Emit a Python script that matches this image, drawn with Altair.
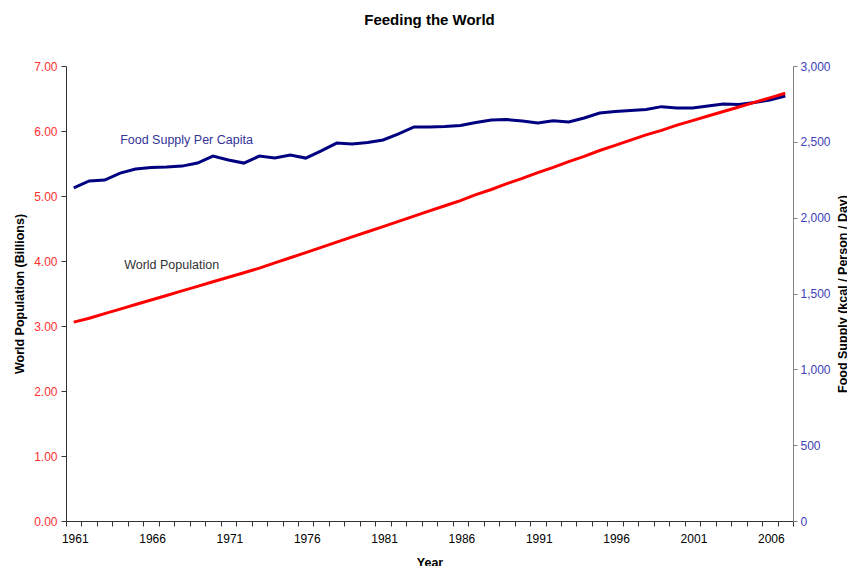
import altair as alt
import pandas as pd

# Years on the category axis
years = list(range(1961, 2008))

# World population, billions
population = [
    3.06, 3.12, 3.19, 3.26, 3.33, 3.40, 3.47, 3.54, 3.61, 3.68,
    3.75, 3.82, 3.89, 3.97, 4.05, 4.13, 4.21, 4.29, 4.37, 4.45,
    4.53, 4.61, 4.69, 4.77, 4.85, 4.93, 5.02, 5.10, 5.19, 5.27,
    5.36, 5.44, 5.53, 5.61, 5.70, 5.78, 5.86, 5.94, 6.01, 6.09,
    6.16, 6.23, 6.30, 6.37, 6.44, 6.51, 6.58,
]

# Food supply per capita, kcal / person / day
food_supply = [
    2197, 2242, 2248, 2294, 2321, 2331, 2334, 2340, 2360, 2406,
    2380, 2360, 2406, 2393, 2413, 2393, 2440, 2492, 2486, 2495,
    2512, 2552, 2598, 2598, 2601, 2608, 2627, 2644, 2647, 2637,
    2624, 2639, 2631, 2657, 2690, 2700, 2706, 2713, 2732, 2723,
    2723, 2736, 2749, 2746, 2759, 2776, 2802,
]

# Series annotations: text, anchor year, value on the series' own axis
pop_label = ["World Population"]
pop_label_year = [1964]
pop_label_value = [3.94]

food_label = ["Food Supply Per Capita"]
food_label_year = [1964]
food_label_value = [2512]

pop_ticks = [0, 1, 2, 3, 4, 5, 6, 7]
food_ticks = [0, 500, 1000, 1500, 2000, 2500, 3000]

FONT = "Liberation Sans"
RED = "#FF0000"
NAVY = "#000080"
WHITE = "#FFFFFF"
PLOT_W = 727
PLOT_H = 455

df = pd.DataFrame({"year": years, "population": population, "food": food_supply})
pop_df = pd.DataFrame({"year": pop_label_year, "value": pop_label_value, "text": pop_label})
food_df = pd.DataFrame({"year": food_label_year, "value": food_label_value, "text": food_label})

x_axis = alt.Axis(
    orient="bottom",
    title="Year",
    titleFont=FONT,
    titleFontSize=12.5,
    titleFontWeight="bold",
    titleColor="#000000",
    titleY=45,
    titleBaseline="alphabetic",
    labelFont=FONT,
    labelFontSize=12,
    labelColor="#000000",
    labelAngle=0,
    labelPadding=7,
    labelOffset=1,
    labelOverlap=False,
    labelExpr="(toNumber(datum.value) - 1961) % 5 == 0 ? datum.value : ''",
    tickBand="extent",
    tickSize=5,
    tickColor="#333333",
    domainColor="#333333",
    grid=False,
)
x_scale = alt.Scale(type="band", paddingInner=0, paddingOuter=0)

pop_scale = alt.Scale(domain=[0, 7], nice=False, zero=True)
food_scale = alt.Scale(domain=[0, 3000], nice=False, zero=True)

pop_axis = alt.Axis(
    orient="left",
    values=pop_ticks,
    format=".2f",
    title="World Population (Billions)",
    titleFont=FONT,
    titleFontSize=12.5,
    titleFontWeight="bold",
    titleColor="#000000",
    titleAngle=270,
    titleX=-43,
    titleY=PLOT_H / 2,
    titleAlign="center",
    titleBaseline="alphabetic",
    labelFont=FONT,
    labelFontSize=12,
    labelColor="#FF3030",
    labelPadding=4,
    tickSize=5,
    tickColor="#333333",
    domainColor="#333333",
    grid=False,
)

food_axis = alt.Axis(
    orient="right",
    values=food_ticks,
    format=",.0f",
    title="Food Supply (kcal / Person / Day)",
    titleFont=FONT,
    titleFontSize=12.5,
    titleFontWeight="bold",
    titleColor="#000000",
    titleAngle=270,
    titleX=53,
    titleY=PLOT_H / 2,
    titleAlign="center",
    titleBaseline="alphabetic",
    labelFont=FONT,
    labelFontSize=12,
    labelColor="#4040B8",
    labelPadding=3,
    tickSize=4,
    tickColor="#808080",
    domainColor="#808080",
    grid=False,
)

pop_line = alt.Chart(df).mark_line(color=RED, strokeWidth=3).encode(
    x=alt.X("year:O", scale=x_scale, axis=x_axis),
    y=alt.Y("population:Q", scale=pop_scale, axis=pop_axis),
)

pop_text = alt.Chart(pop_df).mark_text(
    align="left", baseline="middle", dx=4, font=FONT, fontSize=12.5, color="#333333"
).encode(
    x=alt.X("year:O", scale=x_scale, axis=x_axis),
    y=alt.Y("value:Q", scale=pop_scale, axis=pop_axis),
    text="text:N",
)

food_line = alt.Chart(df).mark_line(color=NAVY, strokeWidth=3).encode(
    x=alt.X("year:O", scale=x_scale, axis=x_axis),
    y=alt.Y("food:Q", scale=food_scale, axis=food_axis),
)

food_text = alt.Chart(food_df).mark_text(
    align="left", baseline="middle", dx=0, font=FONT, fontSize=12.5, color="#333399"
).encode(
    x=alt.X("year:O", scale=x_scale, axis=x_axis),
    y=alt.Y("value:Q", scale=food_scale, axis=food_axis),
    text="text:N",
)

food_layer = alt.layer(food_line, food_text)
pop_layer = alt.layer(pop_line, pop_text)

chart = (
    alt.layer(food_layer, pop_layer)
    .resolve_scale(y="independent")
    .properties(
        width=PLOT_W,
        height=PLOT_H,
        background=WHITE,
        autosize=alt.AutoSizeParams(type="none"),
        padding={"left": 66, "top": 66, "right": 54, "bottom": 45},
        view=alt.ViewBackground(stroke=WHITE, strokeOpacity=0, strokeWidth=0),
        title=alt.TitleParams(
            "Feeding the World",
            font=FONT,
            fontSize=15,
            fontWeight="bold",
            color="#000000",
            anchor="middle",
            offset=32,
        ),
    )
    .configure_view(stroke=WHITE, strokeOpacity=0, strokeWidth=0)
    .configure_axis(grid=False, gridColor=WHITE, gridOpacity=0)
    .configure_axisTop(domainColor=WHITE, domainOpacity=0, ticks=False, labels=False)
)

chart.save("out.html", embed_options={"renderer": "svg", "actions": False})
